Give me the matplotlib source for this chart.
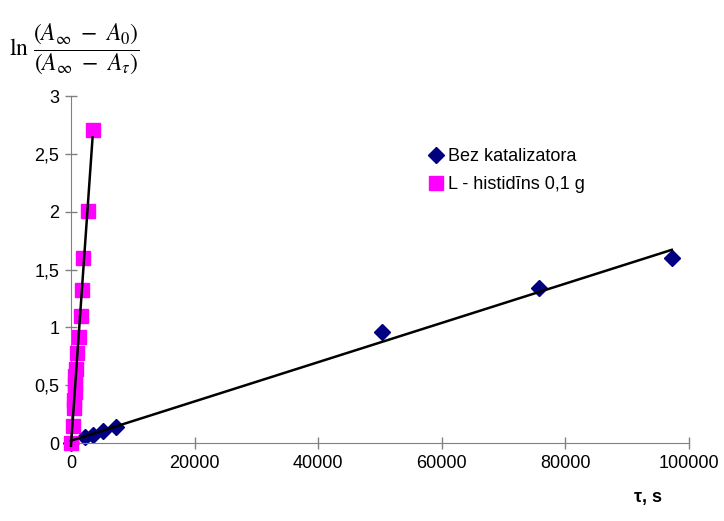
import numpy as np
import matplotlib
matplotlib.use('Agg')
import matplotlib.pyplot as plt

# dane: bez katalizatora
tau_bez = [0, 2200, 3600, 5200, 7300, 50300, 75700, 97200]
ln_bez = [0.0, 0.05, 0.07, 0.10, 0.14, 0.96, 1.34, 1.60]

# dane: L - histidins 0,1 g
tau_his = [0, 300, 500, 550, 600, 650, 700, 800, 1000, 1300, 1600, 1800, 2000, 2800, 3500]
ln_his = [0.0, 0.15, 0.30, 0.37, 0.44, 0.51, 0.58, 0.64, 0.78, 0.92, 1.10, 1.32, 1.60, 2.01, 2.71]

y_ticks = [0, 0.5, 1, 1.5, 2, 2.5, 3]
y_ticklabels = ['0', '0,5', '1', '1,5', '2', '2,5', '3']
x_ticks = [0, 20000, 40000, 60000, 80000, 100000]

plt.rcParams['font.family'] = ['Liberation Sans', 'DejaVu Sans']
plt.rcParams['mathtext.fontset'] = 'stix'

fig = plt.figure(figsize=(7.24, 5.21), dpi=100)
ax = fig.add_axes([0.098, 0.1497, 0.8538, 0.666])

ax.plot(tau_bez, ln_bez, 'D', color='#000080', markersize=8, linestyle='none',
        label='Bez katalizatora', zorder=2, clip_on=False)
ax.plot(tau_his, ln_his, 's', color='#ff00ff', markersize=10, linestyle='none',
        label='L - histidīns 0,1 g', zorder=3, clip_on=False)

# linijas trendy
for xs, ys in [(tau_bez, ln_bez), (tau_his, ln_his)]:
    k, b = np.polyfit(xs, ys, 1)
    xx = np.array([min(xs), max(xs)])
    ax.plot(xx, k * xx + b, '-', color='black', linewidth=1.8, zorder=4, clip_on=False)

ax.set_xlim(0, 100000)
ax.set_ylim(0, 3)
ax.set_xticks(x_ticks)
ax.set_yticks(y_ticks)
ax.set_yticklabels(y_ticklabels)
ax.tick_params(direction='inout', length=9, width=1, color='#808080',
               labelsize=13, pad=4)
for s in ['top', 'right']:
    ax.spines[s].set_visible(False)
for s in ['left', 'bottom']:
    ax.spines[s].set_color('#808080')

ax.legend(loc='upper left', bbox_to_anchor=(0.549, 0.897), frameon=False,
          fontsize=13, handletextpad=0.2, labelspacing=0.6, handlelength=1.0)

fig.text(0.012, 0.905,
         r'$\ln\,\dfrac{\left(A_{\infty}\ -\ A_0\right)}{\left(A_{\infty}\ -\ A_{\tau}\right)}$',
         fontsize=17, va='center', ha='left')
fig.text(0.895, 0.037, 'τ, s', fontsize=13, fontweight='bold', ha='center')

fig.savefig('out.png', dpi=100)
